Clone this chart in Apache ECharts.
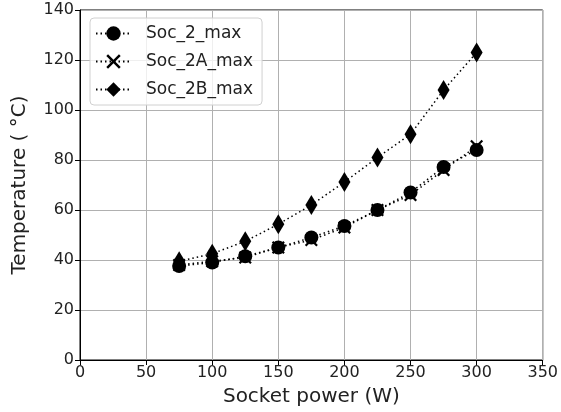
<!DOCTYPE html>
<html><head><meta charset="utf-8">
<script src="https://cdn.jsdelivr.net/npm/echarts@6/dist/echarts.min.js"></script>
<style>html,body{margin:0;padding:0;background:#fff}#c{width:561px;height:412px}</style>
</head><body><div id="c"></div>
<script>
const power = [75, 100, 125, 150, 175, 200, 225, 250, 275, 300];
const soc2 = [37.6, 39, 41.5, 45, 49, 53.6, 60, 67, 77.2, 84];
const soc2A = [38, 39.5, 41, 45, 48, 53, 60, 66, 76, 85.5];
const soc2B = [39.5, 42.5, 47.5, 54.3, 62, 71.2, 81, 90.3, 108, 123];
const xTicks = [0, 50, 100, 150, 200, 250, 300, 350];
const yTicks = [0, 20, 40, 60, 80, 100, 120, 140];

const crossPath = 'path://M0,1.2L1.2,0L5,3.8L8.8,0L10,1.2L6.2,5L10,8.8L8.8,10L5,6.2L1.2,10L0,8.8L3.8,5Z';
const font = 'DejaVu Sans';
function mk(name, data, symbol, size) {
  return {
    name, type: 'line', data: power.map((p, i) => [p, data[i]]),
    symbol, symbolSize: size,
    lineStyle: { color: '#000', width: 1.5, type: [1.5, 3] },
    itemStyle: { color: '#000' },
    emphasis: { disabled: true }, animation: false
  };
}
const chart = echarts.init(document.getElementById('c'));
chart.setOption({
  animation: false,
  grid: { left: 80, right: 16, top: 10, bottom: 52, show: true, borderColor: '#000', borderWidth: 1 },
  legend: {
    orient: 'vertical', left: 90, top: 18, padding: [7, 9, 7, 5],
    borderColor: '#d0d0d0', borderWidth: 1, borderRadius: 4, backgroundColor: 'rgba(255,255,255,0.8)',
    itemWidth: 35, itemHeight: 18, itemGap: 11,
    textStyle: { fontFamily: font, fontSize: 17, color: '#222', padding: [0, 0, 0, 10] },
    data: ['Soc_2_max', 'Soc_2A_max', 'Soc_2B_max']
  },
  xAxis: {
    type: 'value', min: 0, max: 350, interval: 50,
    name: 'Socket power (W)', nameLocation: 'middle', nameGap: 27,
    nameTextStyle: { fontFamily: font, fontSize: 20, color: '#222' },
    axisLine: { show: true, lineStyle: { color: '#000' } },
    axisTick: { show: true, length: 5, lineStyle: { color: '#000' } },
    axisLabel: { fontFamily: font, fontSize: 16, color: '#222', margin: 5,
      formatter: v => xTicks.includes(v) ? String(v) : '' },
    splitLine: { show: true, lineStyle: { color: '#b0b0b0', width: 1 } }
  },
  yAxis: {
    type: 'value', min: 0, max: 140, interval: 20,
    name: 'Temperature ( °C)', nameLocation: 'middle', nameGap: 50,
    nameTextStyle: { fontFamily: font, fontSize: 20, color: '#222' },
    axisLine: { show: true, lineStyle: { color: '#000' } },
    axisTick: { show: true, length: 5, lineStyle: { color: '#000' } },
    axisLabel: { fontFamily: font, fontSize: 16, color: '#222', margin: 6,
      formatter: v => yTicks.includes(v) ? String(v) : '' },
    splitLine: { show: true, lineStyle: { color: '#b0b0b0', width: 1 } }
  },
  series: [
    mk('Soc_2_max', soc2, 'circle', 14),
    mk('Soc_2A_max', soc2A, crossPath, 13),
    mk('Soc_2B_max', soc2B, 'diamond', [12, 20])
  ]
});
</script></body></html>
